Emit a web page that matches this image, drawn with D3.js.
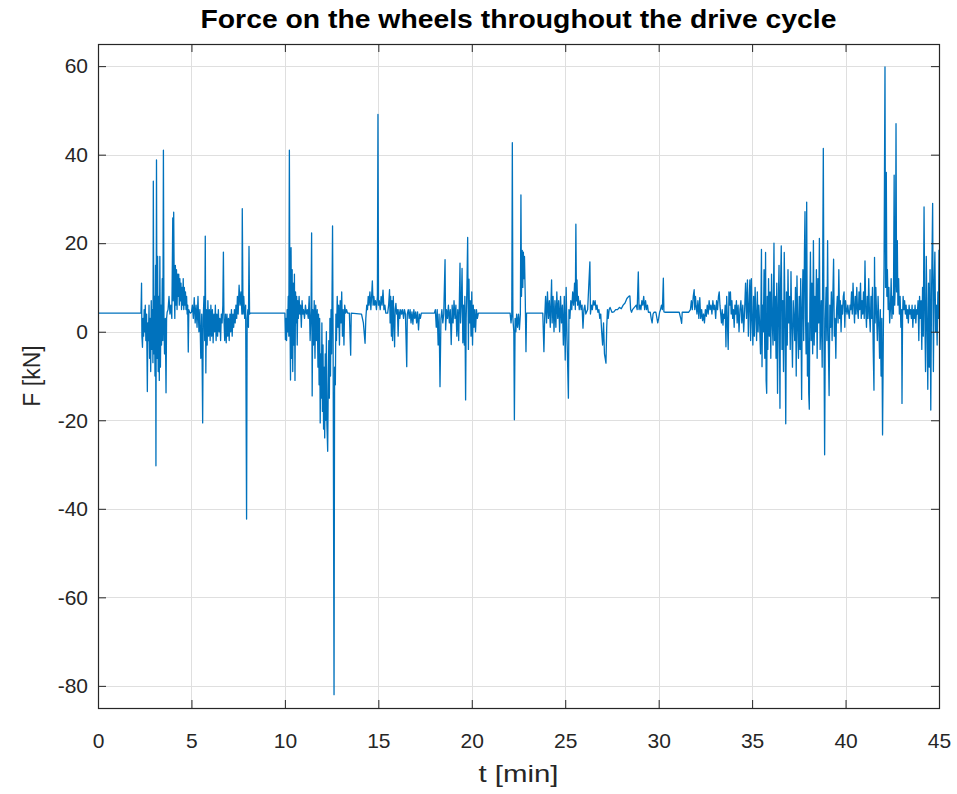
<!DOCTYPE html>
<html><head><meta charset="utf-8">
<script src="https://cdn.jsdelivr.net/npm/d3@7"></script>
<style>body{margin:0;background:#fff}svg{display:block}</style>
</head><body>
<svg id="chart" width="957" height="794"></svg>
<script>
const chartTitle = "Force on the wheels throughout the drive cycle";
const xLabel = "t [min]";
const yLabel = "F [kN]";
const xTicks = [0,5,10,15,20,25,30,35,40,45];
const yTicks = [-80,-60,-40,-20,0,20,40,60];
const xDomain = [0,45];
const yDomain = [-85,65];

const tMin = [
0,2.30,2.33,2.35,2.38,2.41,2.44,2.47,2.50,2.53,
2.56,2.60,2.64,2.67,2.70,2.73,2.76,2.79,2.82,2.85,
2.88,2.91,2.94,2.96,2.99,3.02,3.05,3.08,3.10,3.13,
3.16,3.19,3.22,3.25,3.28,3.31,3.34,3.37,3.40,3.44,
3.47,3.50,3.53,3.56,3.60,3.64,3.67,3.70,3.75,3.80,
3.85,3.90,3.95,4.00,4.02,4.05,4.08,4.11,4.14,4.17,
4.20,4.23,4.26,4.29,4.32,4.35,4.38,4.41,4.44,4.47,
4.50,4.53,4.56,4.59,4.62,4.65,4.68,4.71,4.74,4.77,
4.80,4.83,4.86,4.90,4.95,5.00,5.05,5.10,5.15,5.20,
5.25,5.30,5.35,5.40,5.45,5.50,5.55,5.60,5.63,5.67,
5.71,5.74,5.77,5.80,5.84,5.88,5.92,5.96,6.00,6.04,
6.08,6.12,6.16,6.20,6.24,6.28,6.32,6.36,6.40,6.44,
6.48,6.52,6.56,6.60,6.64,6.68,6.71,6.74,6.78,6.82,
6.86,6.90,6.94,6.98,7.02,7.06,7.10,7.14,7.18,7.22,
7.26,7.30,7.34,7.38,7.42,7.46,7.50,7.55,7.60,7.65,
7.70,7.72,7.76,7.80,7.85,7.90,7.95,7.98,8.02,8.05,
8.08,8.11,8.15,10.00,10.03,10.06,10.09,10.12,10.15,10.18,
10.21,10.24,10.27,10.30,10.33,10.36,10.39,10.42,10.45,10.48,
10.51,10.54,10.57,10.60,10.63,10.66,10.69,10.72,10.76,10.80,
10.84,10.88,10.92,10.96,11.00,11.05,11.10,11.15,11.20,11.25,
11.30,11.35,11.40,11.43,11.46,11.49,11.53,11.57,11.61,11.65,
11.69,11.73,11.77,11.80,11.83,11.86,11.89,11.92,11.95,11.98,
12.01,12.04,12.07,12.10,12.13,12.16,12.19,12.22,12.25,12.29,
12.32,12.35,12.38,12.41,12.44,12.47,12.50,12.55,12.58,12.63,
12.66,12.70,12.73,12.76,12.80,12.84,12.88,12.92,12.96,13.00,
13.04,13.08,13.12,13.16,13.20,13.25,13.30,13.35,13.45,13.52,
13.55,14.10,14.20,14.29,14.33,14.38,14.42,14.46,14.50,14.55,
14.60,14.64,14.68,14.72,14.76,14.80,14.85,14.90,14.95,14.98,
15.01,15.05,15.10,15.15,15.20,15.25,15.30,15.35,15.40,15.50,
15.55,15.60,15.63,15.66,15.70,15.73,15.76,15.80,15.83,15.87,
15.90,15.94,15.98,16.02,16.06,16.10,16.15,16.20,16.25,16.30,
16.35,16.40,16.45,16.52,16.55,16.60,16.65,16.70,16.75,16.80,
16.85,16.90,16.95,17.00,17.05,17.10,17.15,17.20,17.25,17.30,
18.00,18.05,18.10,18.15,18.20,18.25,18.30,18.35,18.40,18.45,
18.50,18.57,18.60,18.65,18.70,18.75,18.80,18.85,18.90,18.95,
19.00,19.05,19.10,19.15,19.20,19.25,19.30,19.37,19.40,19.45,
19.48,19.52,19.56,19.60,19.63,19.67,19.70,19.74,19.78,19.82,
19.85,19.88,19.92,19.96,20.00,20.04,20.08,20.12,20.16,20.20,
20.25,20.30,20.35,22.05,22.10,22.14,22.17,22.20,22.25,22.28,
22.32,22.36,22.40,22.45,22.50,22.55,22.60,22.63,22.66,22.70,
22.73,22.76,22.79,22.82,22.86,22.90,22.93,23.80,23.86,23.90,
23.95,24.00,24.05,24.10,24.15,24.20,24.27,24.30,24.35,24.40,
24.45,24.50,24.55,24.60,24.65,24.70,24.75,24.80,24.85,24.90,
24.95,25.00,25.05,25.10,25.17,25.20,25.25,25.30,25.35,25.40,
25.45,25.50,25.54,25.57,25.60,25.63,25.66,25.70,25.75,25.80,
25.85,25.90,25.95,26.00,26.05,26.10,26.20,26.32,26.35,26.40,
26.45,26.50,26.55,26.60,26.65,26.70,26.75,26.80,26.85,26.90,
26.95,27.00,27.05,27.10,27.18,27.22,27.26,27.30,27.35,27.40,
27.50,27.60,27.70,27.80,27.90,28.00,28.10,28.20,28.30,28.40,
28.46,28.50,28.55,28.60,28.70,28.80,28.85,28.91,28.95,29.00,
29.05,29.10,29.15,29.20,29.25,29.30,29.35,29.40,29.45,29.55,
29.60,29.65,29.70,29.75,29.85,29.95,30.00,30.05,30.10,30.15,
30.20,30.25,30.28,30.33,31.10,31.18,31.23,31.26,31.60,31.70,
31.75,31.80,31.85,31.90,31.93,31.97,32.00,32.05,32.10,32.15,
32.20,32.25,32.30,32.35,32.40,32.45,32.50,32.55,32.60,32.65,
32.70,32.75,32.80,32.85,32.90,32.95,33.00,33.05,33.10,33.15,
33.20,33.24,33.28,33.32,33.36,33.40,33.44,33.48,33.52,33.56,
33.60,33.64,33.68,33.72,33.76,33.80,33.84,33.88,33.92,33.96,
34.00,34.04,34.08,34.12,34.16,34.20,34.25,34.30,34.35,34.40,
34.45,34.50,34.55,34.60,34.65,34.70,34.75,34.80,34.85,34.88,
34.92,34.96,35.00,35.04,35.08,35.12,35.16,35.20,35.24,35.28,
35.32,35.36,35.40,35.45,35.50,35.53,35.56,35.60,35.64,35.68,
35.72,35.75,35.78,35.81,35.84,35.88,35.92,35.96,36.00,36.04,
36.08,36.12,36.17,36.20,36.24,36.28,36.32,36.36,36.40,36.44,
36.49,36.52,36.56,36.60,36.64,36.68,36.72,36.76,36.80,36.84,
36.88,36.92,36.96,37.00,37.04,37.08,37.12,37.16,37.20,37.24,
37.28,37.32,37.36,37.40,37.44,37.48,37.52,37.56,37.60,37.65,
37.68,37.72,37.76,37.80,37.83,37.86,37.89,37.92,37.96,38.00,
38.03,38.06,38.09,38.12,38.16,38.20,38.24,38.28,38.32,38.36,
38.40,38.44,38.48,38.52,38.56,38.60,38.64,38.70,38.75,38.81,
38.85,38.88,38.92,38.96,39.00,39.04,39.08,39.12,39.16,39.20,
39.24,39.28,39.32,39.36,39.40,39.44,39.48,39.52,39.56,39.60,
39.64,39.68,39.72,39.76,39.80,39.84,39.88,39.92,39.96,40.00,
40.04,40.08,40.12,40.16,40.20,40.24,40.28,40.32,40.36,40.40,
40.44,40.48,40.52,40.56,40.60,40.64,40.68,40.72,40.76,40.80,
40.84,40.88,40.92,40.96,41.00,41.04,41.08,41.12,41.16,41.20,
41.24,41.28,41.32,41.36,41.40,41.44,41.48,41.52,41.55,41.58,
41.62,41.66,41.70,41.74,41.78,41.82,41.86,41.90,41.94,41.98,
42.03,42.06,42.11,42.14,42.18,42.21,42.24,42.28,42.32,42.36,
42.40,42.44,42.48,42.52,42.56,42.60,42.63,42.67,42.70,42.73,
42.77,42.80,42.84,42.88,42.92,42.96,43.00,43.02,43.05,43.08,
43.12,43.16,43.20,43.24,43.28,43.32,43.36,43.40,43.44,43.48,
43.52,43.56,43.60,43.64,43.68,43.72,43.76,43.80,43.84,43.88,
43.92,43.96,44.00,44.04,44.08,44.12,44.16,44.20,44.24,44.28,
44.32,44.36,44.40,44.44,44.48,44.52,44.56,44.60,44.66,44.70,
44.74,44.78,44.82,44.86,44.90,44.94,44.97,45.00
];

const forceKN = [
4.2,4.2,11,-1,-3.5,3,-1,5,0,6,
-2,4,-13.5,2,-2,6,-6,3,-9,7,
-4,5,-7,34,-5,8,-10,15,-30.3,38.8,
-6,17,-9,8,-11,17,-8,6,-3,12,
-2,41,2,-5,3,-13.8,3,4.4,5,8,
4,6,3,25.7,7,27,10,3,15,6,
14,5,13,8,13,6,12,7,11,5,
10,6,12,5,10,6,9,5,8,4,
6,-4.6,5,4.4,4.2,4.4,6,3,7.7,2,
6,1,8,0,5,-6,4,-20.6,3,8,
-2,21.6,-9.3,5,-3,7,-1,5,-2,6,
-1,5,-2.5,4,0,6,-2,4,-1,5,
0,3,-2,4,2,6,18,3,-2,4,
-2.5,4,-1,3,-2,4,0,5,-1,4,
1,5,2,6,3,8,4,10.5,6,9,
4,27.8,4,8,3,6,-42.3,3,5,1,
19.3,4,4.2,4.2,-1.8,3,-2,5,0,8,
-1,41,4,-10.9,19,-6,14,-9,11,-3,
13,-11,9,2,8,-3,7,3,8,4,
6,1,7,4,5,3,6,4,5,3,
8,-2,5,22.3,-14.5,5,-3,7,-6,6,
-2,5,-8,4,-12,3,-20.6,-5,-15,2,
-18,-3,-22,-8,-24,-5,-20,0,-21,-27,
-12,-2,-15,3,-10,5,-5,23.9,-2,-82,
-8,-12,4,-2,8,1,6,-3,7,2,
9,-1,5,-3,6,4.2,5,4.2,4.2,-5.3,
4.2,4,2,-2.6,3,6,5,8,6,9,
5,8,11.5,6,8,6,7,5,8,49.1,
6,7,5,8,6,9.4,5,6,4.2,4.2,
6,9.5,2,8,-1,7,-2,8,3,-3.4,
5,6.4,4,5,-1,5,3,5,4,5,
3,5,4,-7.9,4,5,3,5,2,4.5,
1.7,5,3,4.5,2,4.5,0.4,4,3,4.2,
4.2,5,1,5,-3,4,-12.4,3,5,2,
4,16.3,0.4,5,3,6,2,5,-2.9,6,
2,7,3,6,-1,5,-2,15.5,2,8,
14.3,-2.5,6,-3,8,-15.4,3,10,21.3,-4,
11.9,2,7,-1,9,-3,6,1,5,0,
5,3,4.2,4.2,2,4,42.7,3,0,-19.9,
3,0,4,1,4,0.5,4,30.9,8,18.4,
10,18,12,17,8,-4.5,4.2,4.2,-4.5,3,
8,2,9,3,7,1,11.7,2,8,0,
7,1,9,3,7,0,8,2,6,-3,
8,-6.4,10,-2,-15,5,3,7,5,9,
6,11,5,24.3,7,11.7,6,8,5,7,
5,6,0.8,5,6,4,5,15.8,4,6,
5,7,6,7,5,6,4.4,5,3,4,
0,-3,2,-5,-7.1,1,5,3,5,5.5,
4.4,4.5,5,5,5.5,5.2,6,6.5,7.5,8,
8.1,5,4.4,5,5.5,6,5,13.5,5,6,
5,7,6,8,5,7,5,6,4.4,4.4,
3,2,4,4.4,4.4,2,3,4.4,5,6,
5,12.1,4.5,4.4,4.4,3,1.9,4.4,4.4,5,
7,5,8,9.5,5,8,6,4,7,3,
7.7,3,5,2.5,4,2,5,3.5,6,4,
7,5,6,4,7,5,6,3,7,5,
8,9,6,4,2,5,1.5,4,3,6,
-3.4,8,2,-4,9,6,9,4,7,3,
5,1,6,4,7,2,6,0,5,7,
2,6,0,5,11,3,11.7,-1,8,11.7,
-2,12,3,-3,8,-1,10,4,-2,9,
0,6,2,-5,18.6,-7.9,6,0,14,-6,
17.9,-11,-13.9,8,-4,12,-1,9,-6,13,
2,-3,20,-2,8,-6,11,-13.9,6,15,
-17.3,10,19.4,-4,7,-9,17.9,4,-20.8,9,
-3,14,2,8,-4,13.6,1,-8,7,3,
-2,10,-10,12.6,2,-6,8,-4,12,-15.3,
5,14,-2,18,27.1,3,-5,29.3,-10,2,
-14,-17.5,6,18,-2,11,-5,20.6,-3,8,
0,14,-6,12,2,21.1,-4,7,-8,41.4,
-5,-27.8,3,10,-2,20.6,-3,-14.4,6,1,
9,-2,8,16.4,-1,3,-6,5,8,2,
14,3,7,0,6,4,8,9,1,7,
5,4,6,4.4,3,6,5,9,4,11,
6,2,8,4,10,5,3,9,5,11,
3,7,4,9,3,16,5,1,8,3,
12,4,0,8,3,10,-4,-13.2,16.8,2,
10,4,-2,8,2,-6,5,-10,3,-23.3,
4,15,59.8,10,36,8,14,5,10,2,
5,12,3,8,4,35.4,6,12,47,9,
20.6,6,12,4,8,1,5,-16.2,3,8,
5,7,4,6,3,5,2,6,4,5,
3,6,1,5,3,6,2,5,4,7,
-2,8,3,7,-4,10,-1,28.2,4,-9,
17,2,-13,11,-8,14,-17.7,8,29,-9,
10,18,0,6,-3,9,3,18.5
];

const W = 957, H = 794;
const plot = {left: 98, right: 939, top: 44, bottom: 708};
const axisColor = "#262626";
const gridColor = "#dfdfdf";
const lineColor = "#0072BD";
const font = "'Liberation Sans', Arial, Helvetica, sans-serif";

const svg = d3.select("#chart");
svg.append("rect").attr("width", W).attr("height", H).attr("fill", "#ffffff");

const x = d3.scaleLinear().domain(xDomain).range([plot.left, plot.right]);
const y = d3.scaleLinear().domain(yDomain).range([plot.bottom, plot.top]);

const n = Math.min(tMin.length, forceKN.length);
const data = d3.range(n).map(i => ({t: tMin[i], f: forceKN[i]}));

// grid
const grid = svg.append("g");
grid.selectAll("line.gx").data(xTicks).join("line")
  .attr("x1", d => Math.round(x(d)) + 0.5).attr("x2", d => Math.round(x(d)) + 0.5)
  .attr("y1", plot.top).attr("y2", plot.bottom)
  .attr("stroke", gridColor).attr("stroke-width", 1);
grid.selectAll("line.gy").data(yTicks).join("line")
  .attr("y1", d => Math.round(y(d)) + 0.5).attr("y2", d => Math.round(y(d)) + 0.5)
  .attr("x1", plot.left).attr("x2", plot.right)
  .attr("stroke", gridColor).attr("stroke-width", 1);

// clip
svg.append("clipPath").attr("id", "clip").append("rect")
  .attr("x", plot.left).attr("y", plot.top)
  .attr("width", plot.right - plot.left).attr("height", plot.bottom - plot.top);

const line = d3.line().x(d => x(d.t)).y(d => y(d.f));
svg.append("path").datum(data)
  .attr("clip-path", "url(#clip)")
  .attr("d", line)
  .attr("fill", "none")
  .attr("stroke", lineColor)
  .attr("stroke-width", 1.3)
  .attr("stroke-linejoin", "round");

// axes with inward ticks (bottom/top/left/right)
const tickLen = 8;
const fmt = d => String(d);
const xAxisB = d3.axisBottom(x).tickValues(xTicks).tickFormat(fmt).tickSizeInner(-tickLen).tickSizeOuter(0).tickPadding(25);
const xAxisT = d3.axisTop(x).tickValues(xTicks).tickSizeInner(-tickLen).tickSizeOuter(0).tickFormat("");
const yAxisL = d3.axisLeft(y).tickValues(yTicks).tickFormat(fmt).tickSizeInner(-tickLen).tickSizeOuter(0).tickPadding(10);
const yAxisR = d3.axisRight(y).tickValues(yTicks).tickSizeInner(-tickLen).tickSizeOuter(0).tickFormat("");

function styleAxis(g) {
  g.select(".domain").remove();
  g.selectAll(".tick line").attr("stroke", axisColor).attr("stroke-width", 1);
  g.selectAll(".tick text").attr("fill", axisColor).style("font-family", font).style("font-size", "21px");
}
svg.append("g").attr("transform", `translate(0,${plot.bottom})`).call(xAxisB).call(styleAxis);
svg.append("g").attr("transform", `translate(0,${plot.top})`).call(xAxisT).call(styleAxis);
svg.append("g").attr("transform", `translate(${plot.left},0)`).call(yAxisL).call(styleAxis);
svg.append("g").attr("transform", `translate(${plot.right},0)`).call(yAxisR).call(styleAxis);

// box
svg.append("rect")
  .attr("x", plot.left + 0.5).attr("y", plot.top + 0.5)
  .attr("width", plot.right - plot.left).attr("height", plot.bottom - plot.top)
  .attr("fill", "none").attr("stroke", axisColor).attr("stroke-width", 1.2);

// title and labels
svg.append("text").attr("x", (plot.left + plot.right) / 2).attr("y", 28)
  .attr("text-anchor", "middle").style("font-family", font).style("font-weight", "bold")
  .style("font-size", "25px").attr("fill", "#000")
  .attr("textLength", 636).attr("lengthAdjust", "spacingAndGlyphs")
  .text(chartTitle);
svg.append("text").attr("x", (plot.left + plot.right) / 2).attr("y", 782)
  .attr("text-anchor", "middle").style("font-family", font).style("font-size", "24px")
  .attr("fill", axisColor).attr("textLength", 80).attr("lengthAdjust", "spacingAndGlyphs")
  .text(xLabel);
svg.append("text").attr("transform", `translate(40,${(plot.top + plot.bottom) / 2}) rotate(-90)`)
  .attr("text-anchor", "middle").style("font-family", font).style("font-size", "23px")
  .attr("fill", axisColor).text(yLabel);
</script>
</body></html>
